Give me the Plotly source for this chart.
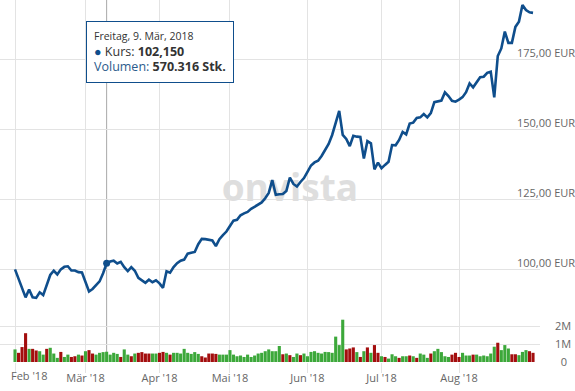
import pandas as pd
import plotly.graph_objects as go

# ---------------- data ----------------
holidays = ["2018-03-30", "2018-04-02", "2018-05-01"]
dates = [d.strftime("%Y-%m-%d") for d in pd.bdate_range("2018-02-01", "2018-08-30")
         if d.strftime("%Y-%m-%d") not in holidays]

price = [
    100.0, 96.5, 93.0, 90.0, 92.8, 90.0, 89.8, 91.8, 90.8, 94.5,
    98.0, 99.5, 98.2, 100.0, 100.9, 101.1, 99.6, 99.6, 99.0, 98.9,
    95.5, 92.1, 93.0, 94.2, 95.7, 98.6, 102.15, 102.8, 103.1, 102.1,
    102.7, 100.8, 99.4, 100.8, 99.5, 97.0, 96.1, 95.2, 96.3, 95.4,
    96.1, 95.0, 93.4, 99.3, 98.8, 100.8, 102.2, 103.1, 103.5, 105.6,
    105.9, 106.2, 109.0, 110.9, 110.8, 110.5, 110.3, 108.3, 110.8, 112.2,
    113.5, 115.5, 117.4, 117.7, 119.3, 120.0, 120.5, 121.6, 122.3, 123.0,
    123.9, 125.4, 127.3, 131.9, 126.6, 126.8, 126.9, 128.0, 132.8, 130.5,
    129.6, 131.2, 132.6, 134.8, 137.1, 138.2, 138.8, 140.5, 142.6, 144.8,
    148.0, 152.5, 156.6, 148.0, 146.6, 144.0, 147.7, 147.4, 147.3, 139.6,
    145.8, 145.0, 135.7, 138.1, 136.1, 137.3, 138.4, 144.4, 144.3, 146.2,
    149.1, 148.2, 152.1, 152.4, 154.1, 154.3, 155.5, 154.3, 155.8, 159.7,
    160.1, 160.3, 163.2, 161.9, 160.2, 159.9, 160.6, 161.5, 163.3, 166.4,
    165.0, 166.6, 168.6, 168.8, 170.2, 170.6, 161.4, 176.2, 178.9, 184.9,
    180.9, 180.9, 186.6, 188.4, 194.4, 192.6, 191.8, 191.6,
]

volume_mio = [
    0.70, 0.51, 0.83, 1.60, 0.73, 0.73, 0.64, 0.60, 0.41, 0.73,
    0.79, 0.47, 0.23, 0.56, 0.28, 0.41, 0.28, 0.32, 0.41, 0.36,
    0.60, 0.66, 0.47, 0.41, 0.51, 0.55, 0.570316, 0.41, 0.51, 0.45,
    0.28, 0.70, 0.41, 0.32, 0.47, 0.51, 0.55, 0.47, 0.47, 0.47,
    0.47, 0.51, 0.56, 0.51, 0.41, 0.51, 0.51, 0.47, 0.73, 0.51,
    0.45, 0.55, 0.45, 0.32, 0.25, 0.47, 0.47, 0.45, 0.41, 0.41,
    0.41, 0.66, 0.41, 0.32, 0.36, 0.28, 0.41, 0.28, 0.36, 0.47,
    0.51, 0.60, 0.70, 0.60, 0.60, 0.89, 0.43, 0.47, 0.38, 0.28,
    0.47, 0.38, 0.47, 0.32, 0.56, 0.60, 0.51, 0.47, 0.56, 0.55,
    0.51, 1.41, 0.94, 2.35, 0.70, 0.75, 0.81, 0.55, 0.28, 0.60,
    0.81, 0.51, 0.94, 0.51, 0.32, 0.28, 0.19, 0.43, 0.32, 0.23,
    0.32, 0.32, 0.36, 0.32, 0.23, 0.47, 0.41, 0.23, 0.47, 0.60,
    0.73, 0.55, 0.32, 0.28, 0.41, 0.51, 0.28, 0.51, 0.36, 0.36,
    0.41, 0.41, 0.32, 0.36, 0.32, 0.47, 0.85, 1.07, 0.66, 0.94,
    0.75, 0.43, 0.43, 0.38, 0.56, 0.66, 0.60, 0.51,
]

vol_dir = list(
    "GRRRGRRGGR" "GGGRGGRRGR" "GRRGGGGGGG" "RGGRGRRRRG" "GRRGRGGGGG"
    "GGGRRRRRGG" "GGGGGGGGGG" "GGGGGGRGRG" "GRGGGGGGGG" "GGGGRRRGRG"
    "RGRRGRGGGR" "GGRGRGGGRG" "GGGGRRRGGG" "RGGGGGGRGG" "GRRGGGRR"
)

price_ticks = [100, 125, 150, 175]
price_tick_labels = ["100,00 EUR", "125,00 EUR", "150,00 EUR", "175,00 EUR"]
vol_ticks = [0, 1, 2, 3]
vol_tick_labels = ["\u00a0\u00a00", "1M", "2M", ""]
month_ticks = ["2018-02-01", "2018-03-01", "2018-04-03", "2018-05-02",
               "2018-06-01", "2018-07-02", "2018-08-01"]
month_labels = ["Feb '18", "Mär '18", "Apr '18", "Mai '18",
                "Jun '18", "Jul '18", "Aug '18"]
hover_date = "2018-03-09"
hover_heading = "Freitag, 9. Mär, 2018"

assert len(dates) == len(price) == len(volume_mio) == len(vol_dir)

# ---------------- styling ----------------
LINE = "#0f4e8c"
UP = "#3ca83a"
DOWN = "#a30e0e"
GRID = "#e3e3e3"
TXT = "#666666"
FONT = "Open Sans"
X_RANGE = [-4.26, 148.98]

fig = go.Figure()

# watermark (drawn under the line)
fig.add_trace(go.Scatter(
    x=[dates[78]], y=[127.6], mode="text", text=["<b>onvista</b>"],
    textfont=dict(family=FONT, size=37, color="#dedede"),
    textposition="middle center", hoverinfo="skip", showlegend=False,
    xaxis="x", yaxis="y"))

fig.add_trace(go.Scatter(
    x=dates, y=price, mode="lines", line=dict(color=LINE, width=2.6),
    showlegend=False, xaxis="x", yaxis="y"))

fig.add_trace(go.Bar(
    x=dates, y=volume_mio,
    marker=dict(color=[UP if d == "G" else DOWN for d in vol_dir], line=dict(width=0)),
    showlegend=False, xaxis="x", yaxis="y2"))

hi = dates.index(hover_date)
fig.add_trace(go.Scatter(
    x=[dates[hi]], y=[price[hi]], mode="markers",
    marker=dict(color=LINE, size=7), showlegend=False, xaxis="x", yaxis="y"))

# first month label sits right of its tick (it would not fit centred):
# it is drawn by a helper axis that carries an invisible anchor point
first_idx = dates.index(month_ticks[0])
fig.add_trace(go.Scatter(
    x=[first_idx], y=[0], mode="markers", marker=dict(opacity=0, size=1),
    hoverinfo="skip", showlegend=False, xaxis="x2", yaxis="y2"))

# crosshair
fig.add_shape(type="line", xref="x", yref="paper", x0=dates[hi], x1=dates[hi],
              y0=0, y1=1, line=dict(color="#a8a8a8", width=1), layer="below")


def de_num(v, dec):
    s = f"{v:,.{dec}f}"
    return s.replace(",", "X").replace(".", ",").replace("X", ".")


tip = (f"<span style='font-size:10.5px;color:#333'>{hover_heading}</span><br>"
       f"<span style='font-size:12.5px'><span style='color:{LINE}'>●</span> "
       f"<span style='color:#333'>Kurs:</span> <b>{de_num(price[hi], 3)}</b></span><br>"
       f"<span style='font-size:12.5px'><span style='color:#2b5b8c'>Volumen:</span> "
       f"<b>{de_num(volume_mio[hi] * 1e6, 0)} Stk.</b></span>")
fig.add_annotation(
    xref="paper", yref="paper", x=86 / 540, y=(362 - 21) / 362,
    xanchor="left", yanchor="top", text=tip, showarrow=False, align="left",
    font=dict(family=FONT, size=12, color="#333"),
    bgcolor="white", bordercolor=LINE, borderwidth=1, borderpad=7)

fig.update_layout(
    width=575, height=391,
    margin=dict(l=0, r=35, t=0, b=29, autoexpand=False),
    paper_bgcolor="white", plot_bgcolor="white",
    bargap=0.12, hovermode=False,
    font=dict(family=FONT, size=11, color=TXT),
    xaxis=dict(
        type="category", categoryorder="array", categoryarray=dates,
        range=X_RANGE, automargin=False,
        tickvals=month_ticks, ticktext=[""] + month_labels[1:],
        showgrid=True, gridcolor=GRID, gridwidth=1,
        ticks="outside", ticklen=10, tickcolor=GRID, ticklabelstandoff=-4,
        tickfont=dict(family=FONT, size=11, color=TXT),
        showline=False, zeroline=False, anchor="y2"),
    xaxis2=dict(
        type="linear", range=X_RANGE, overlaying="x", anchor="y2", side="bottom",
        automargin=False, tickvals=[first_idx], ticktext=[month_labels[0]],
        ticklabelposition="outside right", ticks="", ticklen=10,
        ticklabelstandoff=6, ticklabelshift=-4,
        showgrid=False, zeroline=False, showline=False,
        tickfont=dict(family=FONT, size=11, color=TXT)),
    yaxis=dict(
        domain=[54 / 362, 1], range=[86.2, 196.2], automargin=False,
        side="right", tickvals=price_ticks, ticktext=price_tick_labels,
        showgrid=True, gridcolor=GRID, zeroline=False, showline=False,
        ticks="", ticklabelposition="outside",
        ticklabelstandoff=-24, ticklabelshift=-6,
        tickfont=dict(family=FONT, size=11, color=TXT), anchor="x"),
    yaxis2=dict(
        domain=[0, 54 / 362], range=[0, 3], automargin=False,
        side="right", tickvals=vol_ticks, ticktext=vol_tick_labels,
        showgrid=True, gridcolor=GRID, zeroline=False, showline=False,
        ticks="", ticklabelposition="outside", ticklabelstandoff=14,
        tickfont=dict(family=FONT, size=11, color=TXT), anchor="x"),
)

fig.write_html("out.html", config={"displayModeBar": False},
               post_script="document.body.style.margin='0';")
